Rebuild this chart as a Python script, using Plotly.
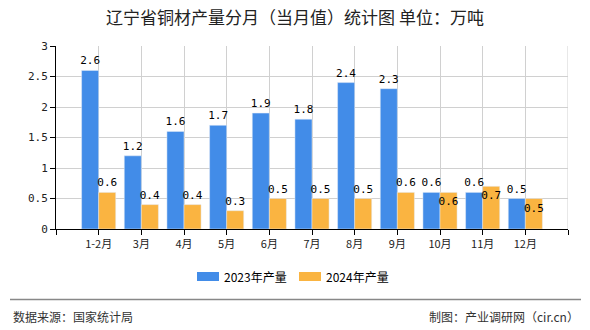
import plotly.graph_objects as go

categories = ["1-2月", "3月", "4月", "5月", "6月", "7月", "8月", "9月", "10月", "11月", "12月"]
y2023 = [2.6, 1.2, 1.6, 1.7, 1.9, 1.8, 2.4, 2.3, 0.6, 0.6, 0.5]
y2024 = [0.6, 0.4, 0.4, 0.3, 0.5, 0.5, 0.5, 0.6, 0.6, 0.7, 0.5]
pos2024 = ["outside"] * 8 + ["inside"] * 3
yticks = [0, 0.5, 1, 1.5, 2, 2.5, 3]
series_names = ["2023年产量", "2024年产量"]

BLUE = "#428CE8"
ORANGE = "#FAB441"
CJK = "Noto Sans CJK SC"
MONO = "DejaVu Sans Mono"

xs = list(range(len(categories)))

fig = go.Figure()
fig.add_trace(go.Bar(
    x=xs, y=y2023, name=series_names[0], marker_color=BLUE,
    text=[f"{v:g}" for v in y2023], textposition="outside", textangle=0,
    constraintext="none",
    textfont=dict(family=MONO, size=11, color="#000"), cliponaxis=False,
))
fig.add_trace(go.Bar(
    x=xs, y=y2024, name=series_names[1], marker_color=ORANGE,
    text=[f"{v:g}" for v in y2024], textposition=pos2024, textangle=0,
    insidetextanchor="end", constraintext="none",
    textfont=dict(family=MONO, size=11, color="#000"), cliponaxis=False,
))

tickvals = [-1] + xs + [len(xs)]
ticktext = [""] + categories + [""]

fig.update_layout(
    width=590, height=330,
    margin=dict(l=56, r=22, t=46, b=101),
    paper_bgcolor="white", plot_bgcolor="white",
    barmode="group", bargap=0.2, bargroupgap=0,
    title=dict(text="辽宁省铜材产量分月（当月值）统计图 单位：万吨",
               x=0.5, xanchor="center", y=1 - 18 / 330, yanchor="middle",
               font=dict(family=CJK, size=17, color="#222")),
    xaxis=dict(range=[-1, len(xs)], tickmode="array", tickvals=tickvals, ticktext=ticktext,
               showgrid=True, gridcolor="#d0d0d0", gridwidth=1,
               showline=True, linecolor="#000", linewidth=1,
               ticks="outside", ticklen=5, tickcolor="#000",
               tickfont=dict(family=CJK, size=11, color="#222"), zeroline=False),
    yaxis=dict(range=[0, 3], tickmode="array", tickvals=yticks,
               ticktext=[f"{v:g}" for v in yticks],
               showgrid=True, gridcolor="#d0d0d0", gridwidth=1,
               showline=True, linecolor="#000", linewidth=1,
               ticks="outside", ticklen=5, tickcolor="#000",
               tickfont=dict(family=MONO, size=11, color="#222"), zeroline=False),
    showlegend=False,
    font=dict(family=CJK),
)

def px_x(p):
    return (p - 56) / 512

def px_y(p):
    return (229 - p) / 183

# custom legend (wide swatches as in the reference)
legend_items = [(197, BLUE, series_names[0]), (299, ORANGE, series_names[1])]
for lx, col, name in legend_items:
    fig.add_shape(type="rect", xref="paper", yref="paper",
                  x0=px_x(lx), x1=px_x(lx + 22), y0=px_y(281), y1=px_y(272),
                  fillcolor=col, line=dict(width=0))
    fig.add_annotation(text=name, xref="paper", yref="paper",
                       x=px_x(lx + 25), y=px_y(276.5), xanchor="left", yanchor="middle",
                       showarrow=False, font=dict(family=CJK, size=12, color="#000"))

fig.add_shape(type="line", xref="paper", yref="paper",
              x0=px_x(10), x1=px_x(581), y0=px_y(299.5), y1=px_y(299.5),
              line=dict(color="#888", width=1.5))
fig.add_shape(type="line", xref="x", yref="paper", x0=len(xs), x1=len(xs), y0=0, y1=1,
              line=dict(color="#d0d0d0", width=1), layer="below")

fig.add_annotation(text="数据来源：国家统计局", xref="paper", yref="paper",
                   x=px_x(11), y=px_y(316), xanchor="left", yanchor="middle",
                   showarrow=False, font=dict(family=CJK, size=12, color="#333"))
fig.add_annotation(text="制图：产业调研网（cir.cn）", xref="paper", yref="paper",
                   x=px_x(581), y=px_y(316), xanchor="right", yanchor="middle",
                   showarrow=False, font=dict(family=CJK, size=12, color="#333"))

fig.write_html("out.html")
